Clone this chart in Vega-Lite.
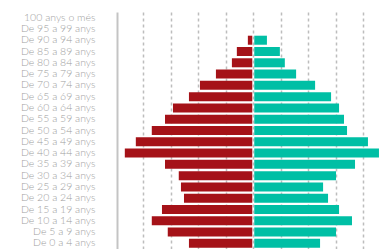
{
  "$schema": "https://vega.github.io/schema/vega-lite/v6.json",
  "autosize": {"type": "none"},
  "padding": {"left": 117, "top": 12, "right": 0, "bottom": 0},
  "width": 264,
  "height": 237,
  "background": "white",
  "config": {"view": {"stroke": null}},
  "data": {
    "values": [
      {"age": "100 anys o més", "sex": "Homes", "value": 0},
      {"age": "100 anys o més", "sex": "Dones", "value": 0},
      {"age": "De 95 a 99 anys", "sex": "Homes", "value": 0},
      {"age": "De 95 a 99 anys", "sex": "Dones", "value": 0},
      {"age": "De 90 a 94 anys", "sex": "Homes", "value": -0.16},
      {"age": "De 90 a 94 anys", "sex": "Dones", "value": 0.46},
      {"age": "De 85 a 89 anys", "sex": "Homes", "value": -0.56},
      {"age": "De 85 a 89 anys", "sex": "Dones", "value": 0.93},
      {"age": "De 80 a 84 anys", "sex": "Homes", "value": -0.74},
      {"age": "De 80 a 84 anys", "sex": "Dones", "value": 1.11},
      {"age": "De 75 a 79 anys", "sex": "Homes", "value": -1.32},
      {"age": "De 75 a 79 anys", "sex": "Dones", "value": 1.52},
      {"age": "De 70 a 74 anys", "sex": "Homes", "value": -1.9},
      {"age": "De 70 a 74 anys", "sex": "Dones", "value": 2.21},
      {"age": "De 65 a 69 anys", "sex": "Homes", "value": -2.3},
      {"age": "De 65 a 69 anys", "sex": "Dones", "value": 2.79},
      {"age": "De 60 a 64 anys", "sex": "Homes", "value": -2.88},
      {"age": "De 60 a 64 anys", "sex": "Dones", "value": 3.08},
      {"age": "De 55 a 59 anys", "sex": "Homes", "value": -3.17},
      {"age": "De 55 a 59 anys", "sex": "Dones", "value": 3.26},
      {"age": "De 50 a 54 anys", "sex": "Homes", "value": -3.65},
      {"age": "De 50 a 54 anys", "sex": "Dones", "value": 3.37},
      {"age": "De 45 a 49 anys", "sex": "Homes", "value": -4.23},
      {"age": "De 45 a 49 anys", "sex": "Dones", "value": 4.13},
      {"age": "De 40 a 44 anys", "sex": "Homes", "value": -4.63},
      {"age": "De 40 a 44 anys", "sex": "Dones", "value": 4.53},
      {"age": "De 35 a 39 anys", "sex": "Homes", "value": -3.17},
      {"age": "De 35 a 39 anys", "sex": "Dones", "value": 3.66},
      {"age": "De 30 a 34 anys", "sex": "Homes", "value": -2.67},
      {"age": "De 30 a 34 anys", "sex": "Dones", "value": 2.97},
      {"age": "De 25 a 29 anys", "sex": "Homes", "value": -2.59},
      {"age": "De 25 a 29 anys", "sex": "Dones", "value": 2.5},
      {"age": "De 20 a 24 anys", "sex": "Homes", "value": -2.48},
      {"age": "De 20 a 24 anys", "sex": "Dones", "value": 2.68},
      {"age": "De 15 a 19 anys", "sex": "Homes", "value": -3.28},
      {"age": "De 15 a 19 anys", "sex": "Dones", "value": 3.08},
      {"age": "De 10 a 14 anys", "sex": "Homes", "value": -3.65},
      {"age": "De 10 a 14 anys", "sex": "Dones", "value": 3.55},
      {"age": "De 5 a 9 anys", "sex": "Homes", "value": -3.07},
      {"age": "De 5 a 9 anys", "sex": "Dones", "value": 2.97},
      {"age": "De 0 a 4 anys", "sex": "Homes", "value": -2.3},
      {"age": "De 0 a 4 anys", "sex": "Dones", "value": 2.39}
    ]
  },
  "encoding": {
    "y": {
      "field": "age",
      "type": "nominal",
      "sort": null,
      "title": null,
      "scale": {"paddingInner": 0.2, "paddingOuter": 0.1},
      "axis": {
        "ticks": false,
        "labelPadding": 22,
        "labelFont": "Lato",
        "labelFontSize": 10.5,
        "labelFontWeight": 300,
        "labelColor": "#a0a0a0",
        "labelOverlap": false,
        "domainColor": "#c4c4c4",
        "domainWidth": 2
      }
    },
    "x": {
      "field": "value",
      "type": "quantitative",
      "title": null,
      "scale": {"domain": [-4.95, 4.64], "nice": false, "zero": false},
      "axis": {
        "values": [-4, -3, -2, -1, 0, 1, 2, 3, 4],
        "labels": false,
        "ticks": false,
        "domain": false,
        "grid": true,
        "gridColor": "#bdbdbd",
        "gridWidth": 1.5,
        "gridDash": [3, 3]
      }
    }
  },
  "layer": [
    {
      "transform": [{"filter": "datum.sex == 'Homes'"}],
      "mark": {"type": "bar", "color": "#a51218", "xOffset": -1}
    },
    {
      "transform": [{"filter": "datum.sex == 'Dones'"}],
      "mark": {"type": "bar", "color": "#00bfa5", "xOffset": 1}
    }
  ]
}
